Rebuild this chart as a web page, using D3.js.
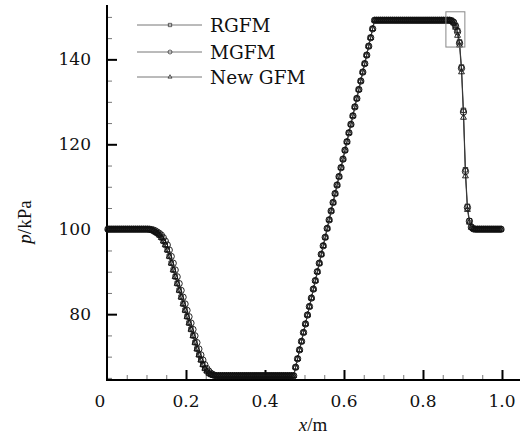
<!DOCTYPE html>
<html><head><meta charset="utf-8">
<script src="https://cdn.jsdelivr.net/npm/d3@7"></script>
<style>body{margin:0;background:#fff}svg{display:block}</style>
</head><body><svg id="c" width="520" height="435"></svg>
<script>
// cell centres (m)
const xCells = [
0.0025,0.0075,0.0125,0.0175,0.0225,0.0275,0.0325,0.0375,0.0425,0.0475,
0.0525,0.0575,0.0625,0.0675,0.0725,0.0775,0.0825,0.0875,0.0925,0.0975,
0.1025,0.1075,0.1125,0.1175,0.1225,0.1275,0.1325,0.1375,0.1425,0.1475,
0.1525,0.1575,0.1625,0.1675,0.1725,0.1775,0.1825,0.1875,0.1925,0.1975,
0.2025,0.2075,0.2125,0.2175,0.2225,0.2275,0.2325,0.2375,0.2425,0.2475,
0.2525,0.2575,0.2625,0.2675,0.2725,0.2775,0.2825,0.2875,0.2925,0.2975,
0.3025,0.3075,0.3125,0.3175,0.3225,0.3275,0.3325,0.3375,0.3425,0.3475,
0.3525,0.3575,0.3625,0.3675,0.3725,0.3775,0.3825,0.3875,0.3925,0.3975,
0.4025,0.4075,0.4125,0.4175,0.4225,0.4275,0.4325,0.4375,0.4425,0.4475,
0.4525,0.4575,0.4625,0.4675,0.4725,0.4775,0.4825,0.4875,0.4925,0.4975,
0.5025,0.5075,0.5125,0.5175,0.5225,0.5275,0.5325,0.5375,0.5425,0.5475,
0.5525,0.5575,0.5625,0.5675,0.5725,0.5775,0.5825,0.5875,0.5925,0.5975,
0.6025,0.6075,0.6125,0.6175,0.6225,0.6275,0.6325,0.6375,0.6425,0.6475,
0.6525,0.6575,0.6625,0.6675,0.6725,0.6775,0.6825,0.6875,0.6925,0.6975,
0.7025,0.7075,0.7125,0.7175,0.7225,0.7275,0.7325,0.7375,0.7425,0.7475,
0.7525,0.7575,0.7625,0.7675,0.7725,0.7775,0.7825,0.7875,0.7925,0.7975,
0.8025,0.8075,0.8125,0.8175,0.8225,0.8275,0.8325,0.8375,0.8425,0.8475,
0.8525,0.8575,0.8625,0.8675,0.8725,0.8775,0.8825,0.8875,0.8925,0.8975,
0.9025,0.9075,0.9125,0.9175,0.9225,0.9275,0.9325,0.9375,0.9425,0.9475,
0.9525,0.9575,0.9625,0.9675,0.9725,0.9775,0.9825,0.9875,0.9925,0.9975];

const pRGFM = [
100,100,100,100,100,100,100,100,100,100,
100,100,100,100,100,100,100,100,100,100,
100,99.9,99.8,99.6,99.3,99.0,98.6,98.0,97.2,96.3,
95.1,93.6,92.0,90.4,88.8,87.2,85.6,84.0,82.4,80.9,
79.4,77.9,76.4,74.9,73.3,71.8,70.4,69.2,68.1,67.2,
66.6,66.1,65.8,65.6,65.5,65.5,65.5,65.5,65.5,65.5,
65.5,65.5,65.5,65.5,65.5,65.5,65.5,65.5,65.5,65.5,
65.5,65.5,65.5,65.5,65.5,65.5,65.5,65.5,65.5,65.5,
65.5,65.5,65.5,65.5,65.5,65.5,65.5,65.5,65.5,65.5,
65.5,65.5,65.5,65.5,65.5,67.5,69.5,71.6,73.6,75.7,
77.7,79.8,81.8,83.8,85.9,87.9,90.0,92.0,94.1,96.1,
98.1,100.2,102.2,104.3,106.3,108.4,110.4,112.4,114.5,116.5,
118.6,120.6,122.7,124.7,126.7,128.8,130.8,132.9,134.9,137.0,
139.0,141.0,143.1,145.1,147.2,149.2,149.2,149.2,149.2,149.2,
149.2,149.2,149.2,149.2,149.2,149.2,149.2,149.2,149.2,149.2,
149.2,149.2,149.2,149.2,149.2,149.2,149.2,149.2,149.2,149.2,
149.2,149.2,149.2,149.2,149.2,149.2,149.2,149.2,149.2,149.2,
149.2,149.2,149.2,149.2,149.1,148.8,148.0,146.8,144.1,138.2,
128.0,114.0,105.4,102.0,100.5,100.1,100,100,100,100,
100,100,100,100,100,100,100,100,100,100];

const pMGFM = [
100,100,100,100,100,100,100,100,100,100,
100,100,100,100,100,100,100,100,100,100,
100,100,99.9,99.8,99.6,99.3,99.0,98.6,98.0,97.2,
96.3,95.1,93.6,92.0,90.4,88.8,87.2,85.6,84.0,82.4,
80.9,79.4,77.9,76.4,74.9,73.3,71.8,70.4,69.2,68.1,
67.2,66.6,66.1,65.8,65.6,65.5,65.5,65.5,65.5,65.5,
65.5,65.5,65.5,65.5,65.5,65.5,65.5,65.5,65.5,65.5,
65.5,65.5,65.5,65.5,65.5,65.5,65.5,65.5,65.5,65.5,
65.5,65.5,65.5,65.5,65.5,65.5,65.5,65.5,65.5,65.5,
65.5,65.5,65.5,65.5,65.5,67.5,69.5,71.6,73.6,75.7,
77.7,79.8,81.8,83.8,85.9,87.9,90.0,92.0,94.1,96.1,
98.1,100.2,102.2,104.3,106.3,108.4,110.4,112.4,114.5,116.5,
118.6,120.6,122.7,124.7,126.7,128.8,130.8,132.9,134.9,137.0,
139.0,141.0,143.1,145.1,147.2,149.2,149.2,149.2,149.2,149.2,
149.2,149.2,149.2,149.2,149.2,149.2,149.2,149.2,149.2,149.2,
149.2,149.2,149.2,149.2,149.2,149.2,149.2,149.2,149.2,149.2,
149.2,149.2,149.2,149.2,149.2,149.2,149.2,149.2,149.2,149.2,
149.2,149.2,149.2,149.2,149.1,148.7,147.8,146.5,143.8,137.9,
127.6,113.6,105.1,101.9,100.5,100.1,100,100,100,100,
100,100,100,100,100,100,100,100,100,100];

const pNewGFM = [
100,100,100,100,100,100,100,100,100,100,
100,100,100,100,100,100,100,100,100,100,
100,99.9,99.8,99.6,99.3,99.0,98.6,98.0,97.2,96.3,
95.1,93.6,92.0,90.4,88.8,87.2,85.6,84.0,82.4,80.9,
79.4,77.9,76.4,74.9,73.3,71.8,70.4,69.2,68.1,67.2,
66.6,66.1,65.8,65.6,65.5,65.5,65.5,65.5,65.5,65.5,
65.5,65.5,65.5,65.5,65.5,65.5,65.5,65.5,65.5,65.5,
65.5,65.5,65.5,65.5,65.5,65.5,65.5,65.5,65.5,65.5,
65.5,65.5,65.5,65.5,65.5,65.5,65.5,65.5,65.5,65.5,
65.5,65.5,65.5,65.5,65.5,67.5,69.5,71.6,73.6,75.7,
77.7,79.8,81.8,83.8,85.9,87.9,90.0,92.0,94.1,96.1,
98.1,100.2,102.2,104.3,106.3,108.4,110.4,112.4,114.5,116.5,
118.6,120.6,122.7,124.7,126.7,128.8,130.8,132.9,134.9,137.0,
139.0,141.0,143.1,145.1,147.2,149.2,149.2,149.2,149.2,149.2,
149.2,149.2,149.2,149.2,149.2,149.2,149.2,149.2,149.2,149.2,
149.2,149.2,149.2,149.2,149.2,149.2,149.2,149.2,149.2,149.2,
149.2,149.2,149.2,149.2,149.2,149.2,149.2,149.2,149.2,149.2,
149.2,149.2,149.2,149.2,149.0,148.5,147.5,145.6,143.3,137.0,
126.3,112.5,104.6,101.6,100.4,100.1,100,100,100,100,
100,100,100,100,100,100,100,100,100,100];

const seriesNames = ["RGFM", "MGFM", "New GFM"];
const seriesMarkers = ["square", "circle", "triangle"];
const xMajorTicks = [0.2, 0.4, 0.6, 0.8, 1.0];
const xMinorTicks = [0.05,0.1,0.15,0.25,0.3,0.35,0.45,0.5,0.55,0.65,0.7,0.75,0.85,0.9,0.95];
const xTickValues = [0, 0.2, 0.4, 0.6, 0.8, 1.0];
const xTickLabels = ["0", "0.2", "0.4", "0.6", "0.8", "1.0"];
const yMajorTicks = [80, 100, 120, 140];
const yMinorTicks = [65,70,75,85,90,95,105,110,115,125,130,135,145,150];
const yTickLabels = ["80", "100", "120", "140"];
const boxX = [0.858, 0.906];
const boxP = [142.9, 151.2];

const svg = d3.select("#c");
const x = d3.scaleLinear().domain([0, 1.0456]).range([107, 520]);
const y = d3.scaleLinear().domain([64.5, 152.8]).range([380, 5]);
const serif = "'DejaVu Serif', serif";

// axes
function styleAxis(g, col, w) {
  g.select(".domain").remove();
  g.selectAll(".tick line").attr("stroke", col).attr("stroke-width", w);
}
svg.append("g").attr("transform", "translate(0,380)")
  .call(d3.axisBottom(x).tickValues(xMinorTicks).tickSize(-5).tickFormat(""))
  .call(g => styleAxis(g, "#777", 1));
svg.append("g").attr("transform", "translate(0,380)")
  .call(d3.axisBottom(x).tickValues(xMajorTicks).tickSize(-10).tickFormat(""))
  .call(g => styleAxis(g, "#000", 2));
svg.append("g").attr("transform", "translate(107,0)")
  .call(d3.axisLeft(y).tickValues(yMinorTicks).tickSize(-5).tickFormat(""))
  .call(g => styleAxis(g, "#777", 1));
svg.append("g").attr("transform", "translate(107,0)")
  .call(d3.axisLeft(y).tickValues(yMajorTicks).tickSize(-10).tickFormat(""))
  .call(g => styleAxis(g, "#000", 2));
svg.append("line").attr("x1", x.range()[0]).attr("x2", x.range()[1])
  .attr("y1", 380).attr("y2", 380).attr("stroke", "#000").attr("stroke-width", 2);
svg.append("line").attr("x1", 107).attr("x2", 107)
  .attr("y1", y.range()[0] + 1).attr("y2", y.range()[1]).attr("stroke", "#000").attr("stroke-width", 2);

// tick labels
svg.append("g").selectAll("text").data(xTickValues).join("text")
  .attr("x", (d, i) => x(d) + (i === 0 ? -7 : 0)).attr("y", 407)
  .attr("text-anchor", "middle").attr("font-family", serif).attr("font-size", 17)
  .attr("fill", "#111").text((d, i) => xTickLabels[i]);
svg.append("g").selectAll("text").data(yMajorTicks).join("text")
  .attr("x", 91).attr("y", d => y(d) + 6)
  .attr("text-anchor", "end").attr("font-family", serif).attr("font-size", 17)
  .attr("fill", "#111").text((d, i) => yTickLabels[i]);

// axis titles
svg.append("text").attr("transform", "translate(31,222) rotate(-90)")
  .attr("text-anchor", "middle").attr("font-family", "'Liberation Serif', serif")
  .attr("font-size", 19).attr("fill", "#111")
  .html("<tspan font-style='italic'>p</tspan>/kPa");
svg.append("text").attr("x", 313).attr("y", 431)
  .attr("text-anchor", "middle").attr("font-family", "'Liberation Serif', serif")
  .attr("font-size", 19).attr("fill", "#111")
  .html("<tspan font-style='italic'>x</tspan>/m");

// series
const allP = [pRGFM, pMGFM, pNewGFM];
const line = d3.line().x(d => x(d[0])).y(d => y(d[1]));
function drawMarker(g, type, cx, cy, big) {
  const st = { fill: "none", stroke: big ? "#111" : "#222", "stroke-width": big ? 0.9 : 0.7 };
  let el;
  if (type === "circle") {
    el = g.append("circle").attr("cx", cx).attr("cy", cy).attr("r", big ? 3.2 : 2);
  } else {
    const sym = type === "square" ? d3.symbolSquare : d3.symbolTriangle;
    const size = type === "square" ? (big ? 20 : 11) : (big ? 15 : 7);
    el = g.append("path").attr("d", d3.symbol(sym, size)()).attr("transform", `translate(${cx},${cy})`);
  }
  for (const k in st) el.attr(k, st[k]);
}
allP.forEach((ps, si) => {
  const pts = xCells.map((xv, i) => [xv, ps[i]]);
  const g = svg.append("g");
  g.append("path").attr("d", line(pts)).attr("fill", "none").attr("stroke", "#333").attr("stroke-width", 0.8);
  pts.forEach(p => drawMarker(g, seriesMarkers[si], x(p[0]), y(p[1]), true));
});

// zoom box
svg.append("rect").attr("x", x(boxX[0])).attr("y", y(boxP[1]))
  .attr("width", x(boxX[1]) - x(boxX[0])).attr("height", y(boxP[0]) - y(boxP[1]))
  .attr("fill", "none").attr("stroke", "#888").attr("stroke-width", 1);

// legend
const legY = [25, 52, 77];
seriesNames.forEach((name, i) => {
  const g = svg.append("g");
  g.append("line").attr("x1", 137).attr("x2", 202).attr("y1", legY[i]).attr("y2", legY[i])
    .attr("stroke", "#777").attr("stroke-width", 1);
  drawMarker(g, seriesMarkers[i], 170, legY[i], false);
  g.append("text").attr("x", 210).attr("y", legY[i] + 7).attr("font-family", serif)
    .attr("font-size", 18.5).attr("fill", "#111").text(name);
});
</script></body></html>
